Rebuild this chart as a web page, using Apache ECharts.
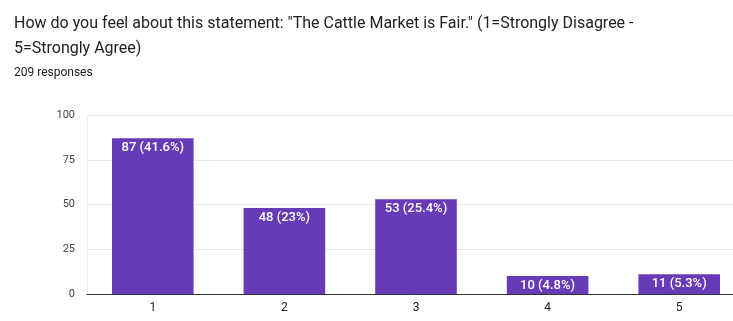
<!DOCTYPE html>
<html><head><meta charset="utf-8">
<script src="https://cdn.jsdelivr.net/npm/echarts@6/dist/echarts.min.js"></script>
<style>html,body{margin:0;padding:0;background:#fff}#c{width:733px;height:321px}</style>
</head><body><div id="c"></div>
<script>
const categories = ['1','2','3','4','5'];
const counts = [87, 48, 53, 10, 11];
const percents = ['41.6%', '23%', '25.4%', '4.8%', '5.3%'];
const yTicks = [0, 25, 50, 75, 100];

const chart = echarts.init(document.getElementById('c'));
chart.setOption({
  animation: false,
  title: [
    {text: 'How do you feel about this statement: "The Cattle Market is Fair." (1=Strongly Disagree -\n5=Strongly Agree)',
     left: 9, top: 6, textStyle: {fontFamily: 'Roboto', fontSize: 16, fontWeight: 'normal', color: '#202124', lineHeight: 25}},
    {text: '209 responses', left: 9, top: 62,
     textStyle: {fontFamily: 'Roboto', fontSize: 12, fontWeight: 'normal', color: '#202124'}}
  ],
  grid: {left: 87, width: 658, top: 115, bottom: 27, containLabel: false, outerBoundsMode: 'none'},
  xAxis: {
    type: 'category', data: categories,
    axisLine: {lineStyle: {color: '#333', width: 1}},
    axisTick: {show: false},
    axisLabel: {fontFamily: 'Roboto', fontSize: 12, color: '#222', margin: 8}
  },
  yAxis: {
    type: 'value', min: 0, max: 100, interval: 25,
    axisLine: {show: true, lineStyle: {color: '#eee'}},
    axisTick: {show: false},
    splitLine: {lineStyle: {color: '#e8e8e8'}},
    axisLabel: {fontFamily: 'Roboto', fontSize: 11, color: '#444', margin: 12,
      formatter: v => yTicks.includes(v) ? String(v) : ''}
  },
  series: [{
    type: 'bar', data: counts, barCategoryGap: '38%',
    itemStyle: {color: '#673ab7'},
    label: {show: true, position: 'insideTop', distance: 3, color: '#fff',
      fontFamily: 'Roboto', fontSize: 13, fontWeight: 500,
      formatter: p => counts[p.dataIndex] + ' (' + percents[p.dataIndex] + ')'}
  }]
});
</script></body></html>
